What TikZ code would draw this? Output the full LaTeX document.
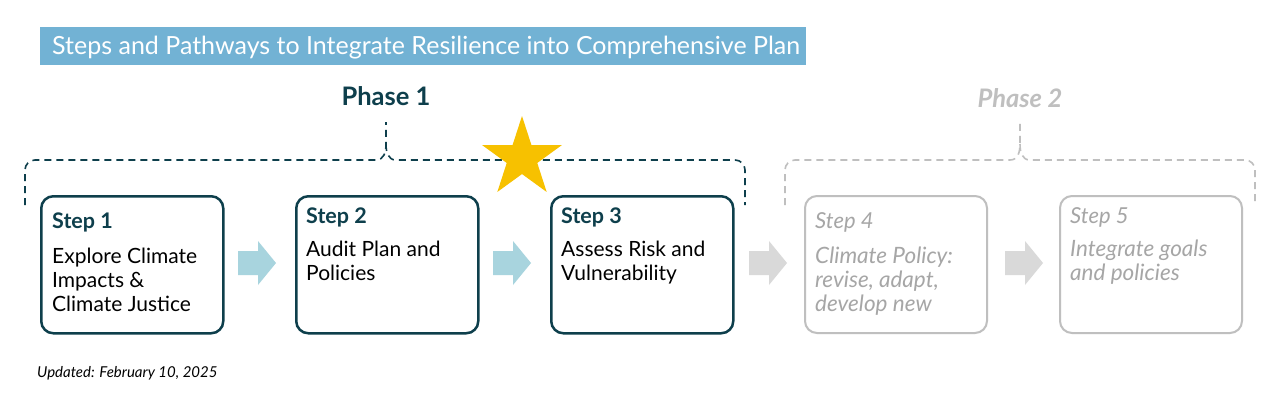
\documentclass[tikz,border=0pt]{standalone}
\usepackage{fontspec}
\setmainfont{Lato}
\usetikzlibrary{shapes.geometric}
\definecolor{dteal}{HTML}{0E3F4C}
\definecolor{titleblue}{HTML}{72B2D4}
\definecolor{arrowblue}{HTML}{A8D4DE}
\definecolor{lgray}{HTML}{BFBFBF}
\definecolor{tgray}{HTML}{A6A6A6}
\definecolor{agray}{HTML}{D9D9D9}
\definecolor{gold}{HTML}{F7C100}
\tikzset{
  stepbox/.style={draw=dteal, line width=2.5pt, rounded corners=12pt, minimum width=182pt, minimum height=137pt, anchor=north west, inner sep=0pt},
  graybox/.style={stepbox, draw=lgray, line width=2pt},
  head/.style={anchor=base west, inner sep=0pt, text=dteal, font=\fontsize{21.5}{24}\selectfont\bfseries},
  ghead/.style={anchor=base west, inner sep=0pt, text=tgray, font=\fontsize{22}{24}\selectfont\itshape},
  body/.style={anchor=base west, inner sep=0pt, align=left, text=black, font=\fontsize{21}{24}\selectfont},
  gbody/.style={body, text=tgray, font=\fontsize{22.5}{24}\selectfont\itshape},
  brace1/.style={draw=dteal, line width=1.6pt, dash pattern=on 7pt off 5pt},
  brace2/.style={brace1, draw=lgray},
  blockarrow/.pic={\fill (0,-12) -- (20,-12) -- (20,-22) -- (38,0) -- (20,22) -- (20,12) -- (0,12) -- cycle;}
}
\begin{document}
\begin{tikzpicture}[x=1pt,y=-1pt]
\useasboundingbox (0,0) rectangle (1280,400);
\fill[white] (0,0) rectangle (1280,400);

% title banner
\node[fill=titleblue, minimum width=766pt, minimum height=38pt, anchor=north west, inner sep=0pt] (banner) at (40,27) {};
\node[anchor=base west, inner sep=0pt, text=white, font=\fontsize{25}{28}\selectfont] (title) at (52,54) {Steps and Pathways to Integrate Resilience into Comprehensive Plan};

% phase labels
\node[text=dteal, font=\fontsize{25.5}{28}\selectfont\bfseries, inner sep=0pt] (ph1) at (386,96) {Phase 1};
\node[text=lgray, font=\fontsize{25.5}{28}\selectfont\bfseries\itshape, inner sep=0pt] (ph2) at (1020,98) {Phase 2};

% braces
\coordinate (b1l) at (25,205);
\coordinate (b1t) at (386,122);
\coordinate (b1r) at (745,205);
\draw[brace1] (b1l) -- (25,170) arc[start angle=180, end angle=270, radius=10] -- (376,160)
  .. controls (384,160) and (386,152) .. (386,144) -- (b1t);
\draw[brace1] (386,144) .. controls (386,152) and (388,160) .. (396,160) -- (735,160)
  arc[start angle=270, end angle=360, radius=10] -- (b1r);
\coordinate (b2l) at (785,205);
\coordinate (b2t) at (1020,122);
\coordinate (b2r) at (1255,205);
\draw[brace2] (b2l) -- (785,170) arc[start angle=180, end angle=270, radius=10] -- (1010,160)
  .. controls (1018,160) and (1020,152) .. (1020,144) -- (b2t);
\draw[brace2] (1020,144) .. controls (1020,152) and (1022,160) .. (1030,160) -- (1245,160)
  arc[start angle=270, end angle=360, radius=10] -- (b2r);

% boxes
\node[stepbox] (s1) at (40,195) {};
\node[stepbox] (s2) at (295,195) {};
\node[stepbox] (s3) at (550,195) {};
\node[graybox] (s4) at (804,195) {};
\node[graybox] (s5) at (1059,195) {};

% star
\node[star, star points=5, star point ratio=2.618, fill=gold, minimum size=84pt, inner sep=0pt] (star) at (522,158) {};

% texts (base anchor of multi-line node = last line's baseline)
\node[head] (h1) at (52,228) {Step 1};
\node[body] (t1) at (52,311) {Explore Climate\\Impacts \&\\Climate Justice};
\node[head] (h2) at (306,223) {Step 2};
\node[body] (t2) at (306,280) {Audit Plan and\\Policies};
\node[head] (h3) at (561,223) {Step 3};
\node[body] (t3) at (561,280) {Assess Risk and\\Vulnerability};
\node[ghead] (h4) at (815,228) {Step 4};
\node[gbody] (t4) at (815,311) {Climate Policy:\\revise, adapt,\\develop new};
\node[ghead] (h5) at (1070,223) {Step 5};
\node[gbody] (t5) at (1070,280) {Integrate goals\\and policies};

% arrows
\coordinate (a1) at (238,263);
\coordinate (a2) at (493,263);
\coordinate (a3) at (749,263);
\coordinate (a4) at (1005,263);
\pic[fill=arrowblue] at (a1) {blockarrow};
\pic[fill=arrowblue] at (a2) {blockarrow};
\pic[fill=agray] at (a3) {blockarrow};
\pic[fill=agray] at (a4) {blockarrow};

% update note
\node[anchor=base west, inner sep=0pt, font=\fontsize{15}{18}\selectfont\itshape] (upd) at (37,377) {Updated: February 10, 2025};
\end{tikzpicture}
\end{document}
